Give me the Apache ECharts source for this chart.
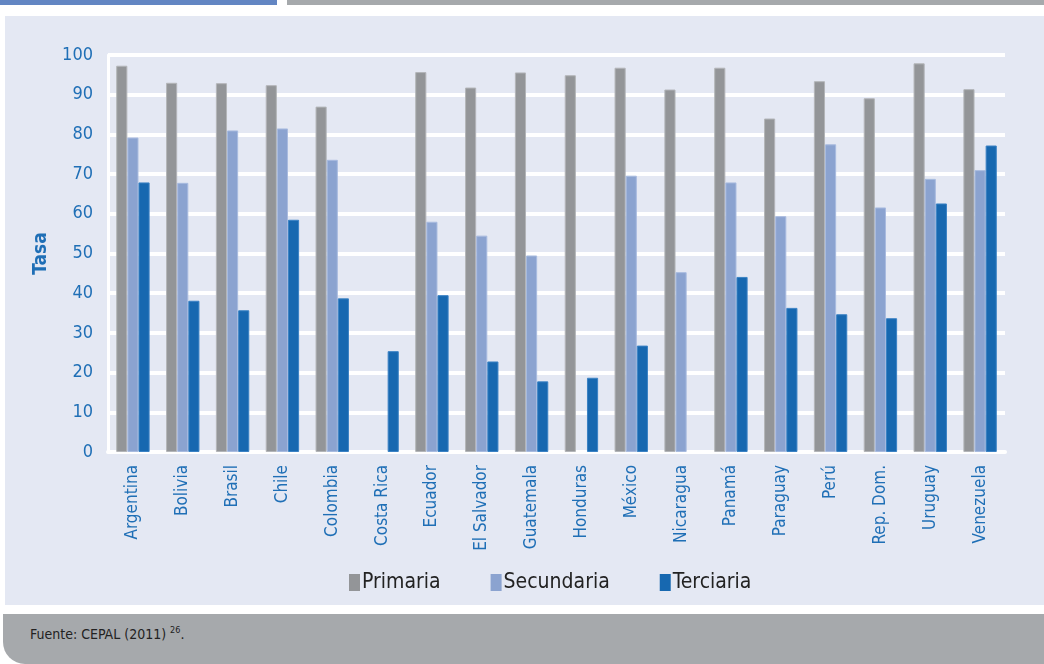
<!DOCTYPE html>
<html>
<head>
<meta charset="utf-8">
<script src="https://cdn.jsdelivr.net/npm/echarts@6/dist/echarts.min.js"></script>
<style>
  html, body { margin: 0; padding: 0; background: #ffffff; width: 1044px; height: 664px; overflow: hidden; }
  #topBlue { position: absolute; left: 0; top: 0; width: 277px; height: 5px; background: #6386c3; }
  #topGray { position: absolute; left: 287px; top: 0; width: 757px; height: 5px; background: #a6a9ac; }
  #panel { position: absolute; left: 5px; top: 16px; width: 1039px; height: 589px; background: #e4e8f3; }
  #footer { position: absolute; left: 3px; top: 614px; width: 1041px; height: 50px; background: #a6a9ac; border-bottom-left-radius: 22px; }
  #footer span { position: absolute; left: 27px; top: 11px; font-family: "Liberation Sans Narrow", "DejaVu Sans Condensed", sans-serif; font-size: 14px; color: #222; }
  #footer sup { font-size: 9px; vertical-align: 6px; }
  #chart { position: absolute; left: 0; top: 0; width: 1044px; height: 664px; }
</style>
</head>
<body>
<div id="topBlue"></div>
<div id="topGray"></div>
<div id="panel"></div>
<div id="footer"><span>Fuente: CEPAL (2011) <sup>26</sup>.</span></div>
<div id="chart"></div>
<script>
const categories = ['Argentina','Bolivia','Brasil','Chile','Colombia','Costa Rica','Ecuador','El Salvador','Guatemala','Honduras','México','Nicaragua','Panamá','Paraguay','Perú','Rep. Dom.','Uruguay','Venezuela'];
const primaria   = [97.3, 93.0, 92.9, 92.4, 87.0, null, 95.7, 91.8, 95.6, 94.9, 96.8, 91.3, 96.8, 84.0, 93.4, 89.1, 97.9, 91.4];
const secundaria = [79.2, 67.8, 81.0, 81.5, 73.6, null, 58.0, 54.5, 49.5, null, 69.6, 45.3, 67.9, 59.4, 77.5, 61.6, 68.8, 71.0];
const terciaria  = [67.9, 38.1, 35.7, 58.5, 38.7, 25.4, 39.5, 22.8, 17.8, 18.7, 26.8, null, 44.1, 36.3, 34.7, 33.7, 62.6, 77.2];
const seriesNames = ['Primaria', 'Secundaria', 'Terciaria'];
const yTicks = { min: 0, max: 100, interval: 10 };

const FONT = '"Liberation Sans Narrow", "DejaVu Sans Condensed", sans-serif';
const BLUE = '#1f6fb6';
const colors = ['#939598', '#8ba3d0', '#1768b0'];
const borders = ['#b3b5b8', '#a8bbdf', '#3b82c4'];
const dataSets = [primaria, secundaria, terciaria];

const chart = echarts.init(document.getElementById('chart'), null, { renderer: 'canvas' });
chart.setOption({
  backgroundColor: 'transparent',
  animation: false,
  color: colors,
  grid: { left: 108, right: 39, top: 55, bottom: 212, containLabel: false },
  legend: {
    data: seriesNames.map((n, i) => ({ name: n, itemStyle: { color: colors[i], borderWidth: 0 } })),
    left: 344, top: 567,
    itemWidth: 11, itemHeight: 17, itemGap: 50,
    icon: 'rect',
    textStyle: { fontFamily: FONT, fontSize: 21, color: '#222', padding: [0, 0, 0, -3] }
  },
  xAxis: {
    type: 'category',
    data: categories,
    axisLine: { show: true, lineStyle: { color: '#ffffff', width: 4 } },
    axisTick: { show: false },
    axisLabel: { rotate: 90, margin: 13, fontFamily: FONT, fontSize: 17, color: BLUE, interval: 0 },
    splitLine: { show: false }
  },
  yAxis: {
    type: 'value',
    min: yTicks.min, max: yTicks.max, interval: yTicks.interval,
    name: 'Tasa',
    nameLocation: 'middle',
    nameGap: 57,
    nameRotate: 90,
    nameTextStyle: { fontFamily: FONT, fontSize: 19, fontWeight: 'bold', color: BLUE },
    axisLine: { show: true, lineStyle: { color: '#ffffff', width: 3 } },
    axisTick: { show: false },
    axisLabel: { margin: 15, fontFamily: FONT, fontSize: 18, color: BLUE },
    splitLine: { show: true, lineStyle: { color: '#ffffff', width: 4 } }
  },
  series: seriesNames.map((n, i) => ({
    name: n,
    type: 'bar',
    data: dataSets[i],
    barGap: '0%',
    barCategoryGap: '33%',
    itemStyle: { color: colors[i], borderColor: borders[i], borderWidth: 1 }
  }))
});
</script>
</body>
</html>
